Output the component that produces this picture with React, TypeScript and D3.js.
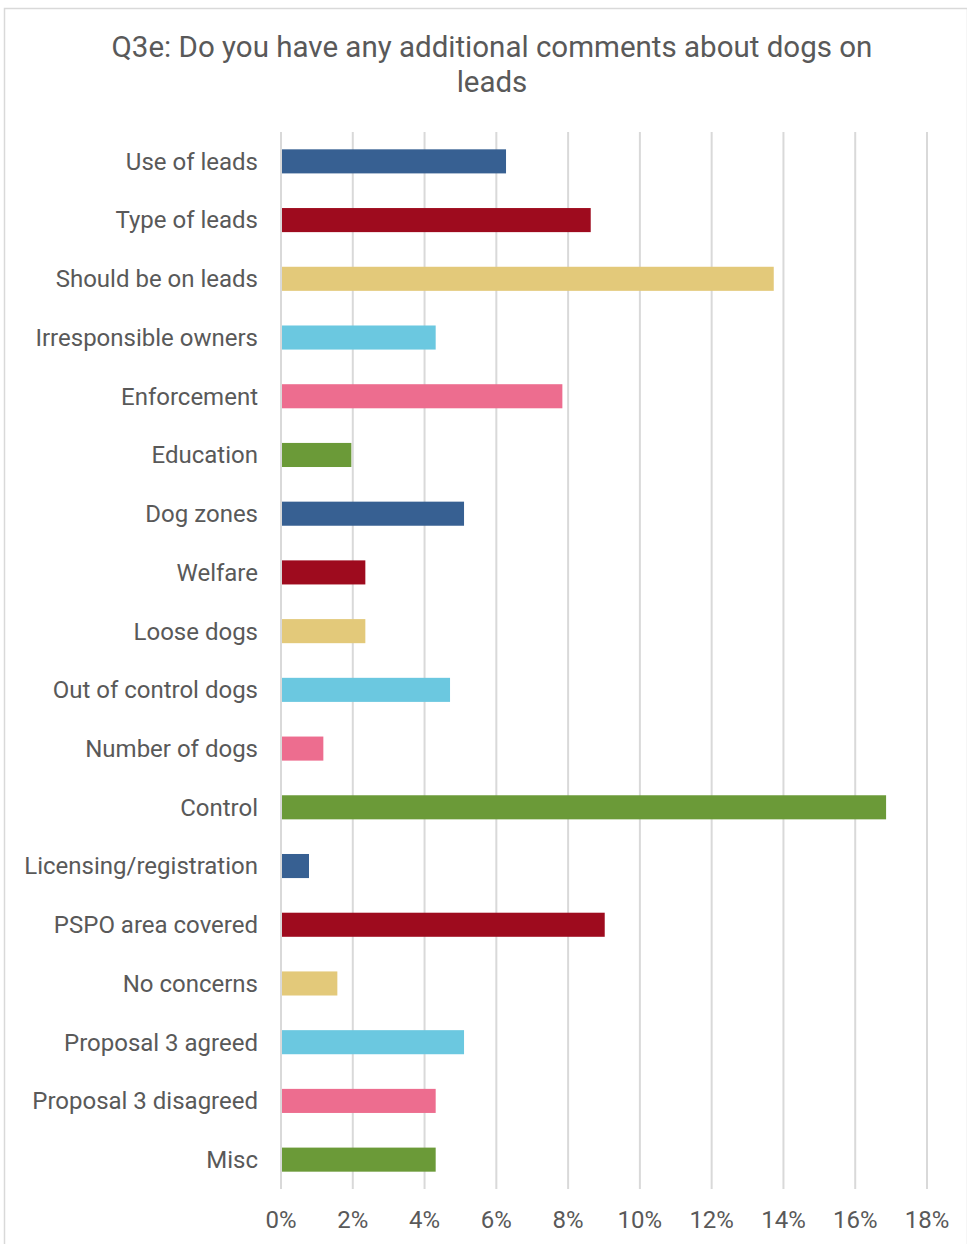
import React, { useRef, useEffect } from 'react';
import * as d3 from 'd3';

const categories = [
  'Use of leads', 'Type of leads', 'Should be on leads', 'Irresponsible owners',
  'Enforcement', 'Education', 'Dog zones', 'Welfare', 'Loose dogs',
  'Out of control dogs', 'Number of dogs', 'Control', 'Licensing/registration',
  'PSPO area covered', 'No concerns', 'Proposal 3 agreed', 'Proposal 3 disagreed', 'Misc',
];
const values = [6.27, 8.63, 13.73, 4.31, 7.84, 1.96, 5.1, 2.35, 2.35, 4.71, 1.18, 16.86, 0.78, 9.02, 1.57, 5.1, 4.31, 4.31];
const palette = ['#376092', '#9e0b1e', '#e3c97a', '#6bc8e0', '#ed6d8f', '#6b9a38'];
const xTicks = [0, 2, 4, 6, 8, 10, 12, 14, 16, 18];
const titleLines = ['Q3e: Do you have any additional comments about dogs on', 'leads'];

const W = 967, H = 1244;
const margin = { top: 132, right: 40, bottom: 55, left: 281 };

const App = () => {
  const ref = useRef(null);

  useEffect(() => {
    const svg = d3.select(ref.current);
    svg.selectAll('*').remove();

    const x = d3.scaleLinear().domain([0, 18]).range([margin.left, W - margin.right]);
    const y = d3.scaleBand().domain(categories).range([margin.top, H - margin.bottom]).paddingInner(0.59).paddingOuter(0.295);

    svg.append('rect')
      .attr('x', 4.5).attr('y', 8.5).attr('width', W - 4).attr('height', H)
      .attr('fill', '#fff').attr('stroke', '#d9d9d9').attr('stroke-width', 1.5);

    svg.append('g').selectAll('text').data(titleLines).join('text')
      .attr('x', 492).attr('y', (d, i) => 57 + i * 35)
      .attr('text-anchor', 'middle')
      .attr('font-size', 29.5).attr('fill', '#595959')
      .text(d => d);

    svg.append('g').selectAll('line').data(xTicks).join('line')
      .attr('x1', d => x(d)).attr('x2', d => x(d))
      .attr('y1', margin.top).attr('y2', H - margin.bottom)
      .attr('stroke', '#d9d9d9').attr('stroke-width', 2);

    svg.append('g').selectAll('rect').data(values).join('rect')
      .attr('x', x(0) + 1).attr('y', (d, i) => y(categories[i]))
      .attr('width', d => x(d) - x(0) - 1).attr('height', y.bandwidth())
      .attr('fill', (d, i) => palette[i % palette.length]);

    svg.append('g').selectAll('text').data(categories).join('text')
      .attr('x', 258).attr('y', d => y(d) + y.bandwidth() / 2)
      .attr('dy', '0.35em').attr('text-anchor', 'end')
      .attr('font-size', 24).attr('fill', '#595959')
      .text(d => d);

    svg.append('g').selectAll('text').data(xTicks).join('text')
      .attr('x', d => x(d)).attr('y', 1220)
      .attr('dy', '0.35em').attr('text-anchor', 'middle')
      .attr('font-size', 24).attr('fill', '#595959')
      .text(d => d + '%');
  }, []);

  return (
    <svg ref={ref} width={W} height={H} fontFamily="Roboto, sans-serif"
      style={{ position: 'absolute', left: 0, top: 0, display: 'block' }} />
  );
};

export default App;
